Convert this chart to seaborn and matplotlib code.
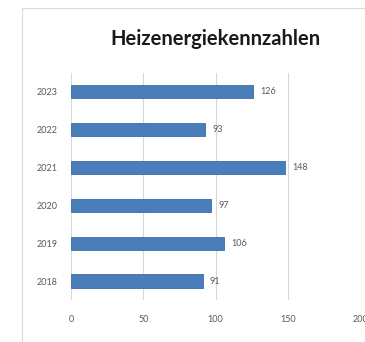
import matplotlib
matplotlib.use("Agg")
import matplotlib.pyplot as plt
from matplotlib.patches import Rectangle
import seaborn as sns
import pandas as pd

years = ["2023", "2022", "2021", "2020", "2019", "2018"]
values = [126, 93, 148, 97, 106, 91]
x_ticks = [0, 50, 100, 150, 200]
title = "Heizenergiekennzahlen"

df = pd.DataFrame({"Jahr": years, "Wert": values})

sns.set_style("white")
plt.rcParams["font.family"] = ["Lato", "DejaVu Sans"]

fig = plt.figure(figsize=(3.65, 3.42), dpi=100)
ax = fig.add_axes([0.1945, 0.1228, 0.792, 0.664])

sns.barplot(data=df, x="Wert", y="Jahr", orient="h", color="#4a7ebb",
            edgecolor="#3d6da6", linewidth=0.6, width=0.35, saturation=1, ax=ax)

for i, v in enumerate(values):
    ax.text(v + 5, i, str(v), va="center", ha="left", fontsize=6.5, color="#595959")

ax.set_xlim(0, 200)
ax.set_ylim(5.5, -0.5)
ax.set_xticks(x_ticks)
ax.set_xticklabels([str(t) for t in x_ticks], fontsize=6.5, color="#595959")
ax.tick_params(axis="y", labelsize=6.5, labelcolor="#595959", length=0, pad=10)
ax.tick_params(axis="x", length=0, pad=11)
ax.set_xlabel("")
ax.set_ylabel("")
ax.xaxis.grid(True, color="#d9d9d9", linewidth=0.8)
ax.set_axisbelow(True)
for s in ax.spines.values():
    s.set_visible(False)

fig.text(0.59, 0.885, title, ha="center", va="center", fontsize=14.5,
         fontweight="bold", color="#1a1a1a")

fig.add_artist(Rectangle((22 / 365, -0.2), 1.2, 1.2 - 8 / 342, transform=fig.transFigure,
                         fill=False, edgecolor="#d9d9d9", linewidth=0.8))

fig.savefig("out.png", dpi=100)
